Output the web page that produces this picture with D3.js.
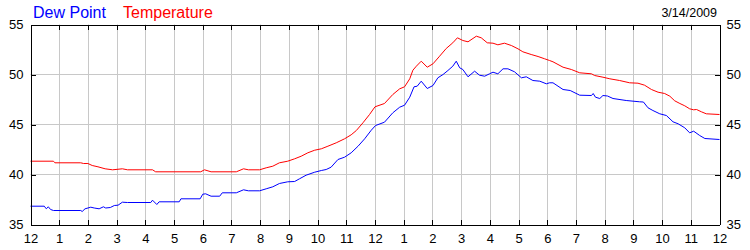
<!DOCTYPE html>
<html>
<head>
<meta charset="utf-8">
<script src="https://cdn.jsdelivr.net/npm/d3@7"></script>
<style>
  body { margin: 0; background: #fff; }
  svg { display: block; font-family: Arial, "Liberation Sans", sans-serif; }
</style>
</head>
<body>
<div id="chart"></div>
<script>
// Hourly readings for 3/14/2009, hour 0 = midnight, 24 = next midnight
const tempHours = [0, 0.8, 0.85, 1.75, 1.85, 2.0, 2.15, 2.35, 2.6, 2.86, 3.2, 3.38, 4.25, 4.36, 5.93, 6.06, 6.29, 7.17, 7.42, 7.59, 7.98, 8.21, 8.44, 8.67, 8.96, 9.2, 9.43, 9.66, 9.9, 10.13, 10.36, 10.65, 10.94, 11.17, 11.35, 11.58, 11.81, 12.0, 12.33, 12.62, 12.86, 13.03, 13.21, 13.32, 13.44, 13.61, 13.82, 14.02, 14.25, 14.48, 14.71, 14.87, 15.06, 15.24, 15.53, 15.7, 15.91, 16.11, 16.28, 16.51, 16.75, 16.98, 17.15, 17.44, 17.68, 17.91, 18.08, 18.2, 18.55, 18.84, 19.13, 19.54, 19.65, 19.94, 20.18, 20.52, 20.87, 21.16, 21.39, 21.63, 21.86, 22.09, 22.27, 22.44, 22.62, 22.79, 22.96, 23.1, 23.2, 23.37, 23.54, 24.0];
const tempValues = [41.33, 41.33, 41.17, 41.17, 41.1, 41.1, 40.9, 40.77, 40.57, 40.47, 40.57, 40.47, 40.47, 40.27, 40.27, 40.47, 40.27, 40.27, 40.57, 40.47, 40.47, 40.67, 40.83, 41.17, 41.33, 41.57, 41.83, 42.17, 42.43, 42.57, 42.83, 43.17, 43.57, 43.97, 44.4, 45.17, 46.0, 46.77, 47.1, 48.0, 48.57, 48.77, 49.57, 50.43, 50.83, 51.33, 50.73, 51.07, 51.83, 52.6, 53.17, 53.67, 53.4, 53.27, 53.83, 53.67, 53.17, 53.13, 52.97, 53.13, 52.9, 52.57, 52.27, 52.0, 51.8, 51.57, 51.4, 51.27, 50.73, 50.5, 50.17, 50.07, 49.9, 49.73, 49.57, 49.4, 49.17, 49.13, 48.93, 48.5, 48.23, 48.1, 47.83, 47.37, 47.1, 46.87, 46.57, 46.47, 46.5, 46.27, 46.07, 46.0];

const dewHours = [0, 0.48, 0.55, 0.62, 0.7, 0.8, 1.75, 1.8, 1.9, 2.1, 2.22, 2.39, 2.54, 2.62, 2.78, 2.92, 3.05, 3.2, 3.38, 4.19, 4.25, 4.4, 4.48, 5.18, 5.24, 5.91, 6.0, 6.1, 6.29, 6.59, 6.68, 7.17, 7.42, 7.59, 7.98, 8.21, 8.44, 8.67, 8.96, 9.2, 9.37, 9.6, 9.9, 10.13, 10.3, 10.47, 10.71, 10.94, 11.17, 11.41, 11.64, 11.87, 12.02, 12.33, 12.62, 12.86, 13.03, 13.21, 13.36, 13.47, 13.61, 13.82, 14.02, 14.19, 14.37, 14.54, 14.71, 14.83, 14.95, 15.06, 15.24, 15.47, 15.64, 15.82, 15.99, 16.11, 16.28, 16.46, 16.63, 16.86, 17.1, 17.27, 17.5, 17.74, 17.97, 18.08, 18.2, 18.55, 18.8, 19.13, 19.54, 19.6, 19.68, 19.83, 19.94, 20.1, 20.29, 20.75, 21.22, 21.35, 21.51, 21.68, 21.92, 22.15, 22.38, 22.56, 22.79, 22.96, 23.1, 23.31, 23.49, 24.0];
const dewValues = [36.83, 36.83, 36.57, 36.77, 36.5, 36.4, 36.4, 36.3, 36.57, 36.73, 36.65, 36.57, 36.77, 36.65, 36.7, 36.9, 36.93, 37.23, 37.2, 37.2, 37.43, 37.0, 37.27, 37.27, 37.57, 37.57, 38.03, 38.07, 37.83, 37.83, 38.17, 38.17, 38.47, 38.37, 38.37, 38.57, 38.77, 39.1, 39.27, 39.3, 39.57, 39.93, 40.23, 40.4, 40.5, 40.73, 41.5, 41.73, 42.17, 42.83, 43.57, 44.43, 44.9, 45.23, 46.17, 46.73, 46.93, 47.73, 48.77, 48.83, 49.33, 48.6, 48.9, 49.67, 50.0, 50.4, 50.83, 51.33, 50.67, 50.5, 49.77, 50.33, 49.93, 49.83, 50.07, 50.23, 50.07, 50.57, 50.57, 50.27, 49.67, 49.77, 49.4, 49.33, 49.07, 49.17, 49.17, 48.5, 48.4, 47.93, 47.9, 48.1, 47.73, 47.6, 47.9, 47.85, 47.6, 47.4, 47.27, 47.25, 46.67, 46.4, 46.07, 45.9, 45.27, 45.07, 44.67, 44.17, 44.33, 43.9, 43.6, 43.5];

const hourTicks = d3.range(0, 25);
const yTicks = [35, 40, 45, 50, 55];
const gridY = [40, 45, 50];
const dateLabel = "3/14/2009";

const svgWidth = 750;
const svgHeight = 250;
const plot = { left: 30.5, right: 719.5, top: 24.5, bottom: 224.5 };
const fontFamily = 'Arial, "Liberation Sans", sans-serif';

const svg = d3.select('#chart').append('svg')
    .attr('width', svgWidth)
    .attr('height', svgHeight);

const xScale = d3.scaleLinear().domain([0, 24]).range([plot.left, plot.right]);
const yScale = d3.scaleLinear().domain([35, 55]).range([plot.bottom, plot.top]);

const crisp = v => Math.round(v) + 0.5;

// Grid lines
svg.append('g').selectAll('line')
    .data(hourTicks.slice(1, -1))
    .enter().append('line')
    .attr('x1', d => crisp(xScale(d))).attr('x2', d => crisp(xScale(d)))
    .attr('y1', plot.top).attr('y2', plot.bottom)
    .attr('stroke', '#c8c8c8');

svg.append('g').selectAll('line')
    .data(gridY)
    .enter().append('line')
    .attr('x1', plot.left).attr('x2', plot.right)
    .attr('y1', d => yScale(d)).attr('y2', d => yScale(d))
    .attr('stroke', '#c8c8c8');

// Series lines
const line = d3.line()
    .x(d => xScale(d[0]))
    .y(d => yScale(d[1]));

svg.append('path')
    .datum(d3.zip(tempHours, tempValues))
    .attr('d', line)
    .attr('fill', 'none')
    .attr('stroke', '#ff0000')
    .attr('stroke-width', 1);

svg.append('path')
    .datum(d3.zip(dewHours, dewValues))
    .attr('d', line)
    .attr('fill', 'none')
    .attr('stroke', '#0000ff')
    .attr('stroke-width', 1);

// Axes (ticks point inward)
const hourFormat = h => (h % 12 === 0 ? 12 : h % 12);

function styleAxis(g) {
    g.attr('font-family', fontFamily).attr('font-size', 13);
    g.selectAll('path, line').attr('stroke', '#000').attr('shape-rendering', 'crispEdges');
    g.selectAll('text').attr('fill', '#000');
}

svg.append('g')
    .attr('transform', `translate(0,${plot.bottom})`)
    .call(d3.axisBottom(xScale).tickValues(hourTicks).tickFormat(hourFormat)
        .tickSizeInner(-5).tickSizeOuter(0).tickPadding(9))
    .call(styleAxis);

svg.append('g')
    .attr('transform', `translate(0,${plot.top})`)
    .call(d3.axisTop(xScale).tickValues(hourTicks).tickFormat('')
        .tickSizeInner(-5).tickSizeOuter(0))
    .call(styleAxis);

svg.append('g')
    .attr('transform', `translate(${plot.left},0)`)
    .call(d3.axisLeft(yScale).tickValues(yTicks)
        .tickSizeInner(-5).tickSizeOuter(0).tickPadding(7))
    .call(styleAxis);

svg.append('g')
    .attr('transform', `translate(${plot.right},0)`)
    .call(d3.axisRight(yScale).tickValues(yTicks)
        .tickSizeInner(-5).tickSizeOuter(0).tickPadding(7))
    .call(styleAxis);

// Legend and date
svg.append('text')
    .attr('x', 33).attr('y', 18)
    .attr('font-family', fontFamily).attr('font-size', 16)
    .attr('fill', '#0000ff')
    .text('Dew Point');

svg.append('text')
    .attr('x', 123).attr('y', 18)
    .attr('font-family', fontFamily).attr('font-size', 16)
    .attr('fill', '#ff0000')
    .text('Temperature');

svg.append('text')
    .attr('x', 717).attr('y', 17)
    .attr('text-anchor', 'end')
    .attr('font-family', fontFamily).attr('font-size', 12.5)
    .attr('fill', '#000')
    .text(dateLabel);
</script>
</body>
</html>
